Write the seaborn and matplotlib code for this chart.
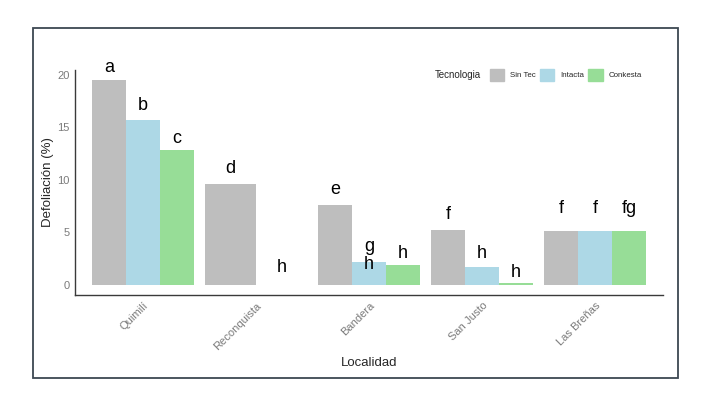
import pandas as pd
import seaborn as sns
import matplotlib.pyplot as plt
import matplotlib.patches as mpatches
import numpy as np

localidades = ['Quimilí', 'Reconquista', 'Bandera', 'San Justo', 'Las Breñas']
tecnologias = ['Sin Tec', 'Intacta', 'Conkesta']

sin_tec = [19.5, 9.6, 7.6, 5.2, 5.1]
intacta = [15.7, 0.0, 2.2, 1.7, 5.1]
conkesta = [12.8, np.nan, 1.9, 0.2, 5.1]

letras_sin = ['a', 'd', 'e', 'f', 'f']
letras_int = ['b', 'h', 'g\nh', 'h', 'f']
letras_con = ['c', '', 'h', 'h', 'fg']

# distancia de la letra (linea base) sobre la barra
ajuste_sin = [0.8, 1.07, 1.07, 1.09, 1.76]
ajuste_int = [0.97, 1.24, -0.68, 0.87, 1.76]
ajuste_con = [0.72, 0, 0.67, 0.56, 1.76]

colores = {'Sin Tec': '#BEBEBE', 'Intacta': '#ADD8E6', 'Conkesta': '#97DD97'}

filas = []
for i, loc in enumerate(localidades):
    for tec, vals in zip(tecnologias, [sin_tec, intacta, conkesta]):
        if not np.isnan(vals[i]):
            filas.append({'Localidad': loc, 'Tecnologia': tec, 'Defoliacion': vals[i]})
df = pd.DataFrame(filas)

sns.set_style('white')
plt.rcParams['font.family'] = ['Liberation Sans', 'DejaVu Sans']

fig = plt.figure(figsize=(7.12, 4.05), dpi=100)
ax = fig.add_axes([0.1053, 0.2716, 0.8258, 0.5556])

sns.barplot(data=df, x='Localidad', y='Defoliacion', hue='Tecnologia',
            order=localidades, hue_order=tecnologias, palette=colores,
            width=0.9, gap=0, saturation=1, errorbar=None, legend=False,
            linewidth=0, edgecolor='none', ax=ax)

# Reconquista solo tiene dos tecnologias: barras mas anchas (como ggplot)
for p in ax.patches:
    c = p.get_x() + p.get_width() / 2
    if abs(c - 0.7) < 0.01:
        p.set_x(0.55)
        p.set_width(0.45)
    elif abs(c - 1.0) < 0.01:
        p.set_x(1.0)
        p.set_width(0.45)

for j, (vals, letras, aj) in enumerate([(sin_tec, letras_sin, ajuste_sin),
                                         (intacta, letras_int, ajuste_int),
                                         (conkesta, letras_con, ajuste_con)]):
    for i in range(len(localidades)):
        if letras[i] == '':
            continue
        x = i + (j - 1) * 0.3
        if localidades[i] == 'Reconquista':
            x = i - 0.225 + j * 0.45
        ax.text(x, vals[i] + aj[i], letras[i], ha='center', va='baseline',
                fontsize=13, color='black', linespacing=1.1)

ax.set_xlim(-0.6, 4.6)
ax.set_ylim(-0.975, 20.475)
ax.set_yticks([0, 5, 10, 15, 20])
ax.tick_params(axis='both', length=0, labelsize=8, labelcolor='#7a7a7a', pad=4)
plt.setp(ax.get_xticklabels(), rotation=45, ha='right', va='top', rotation_mode='anchor')

for s in ['top', 'right']:
    ax.spines[s].set_visible(False)
for s in ['left', 'bottom']:
    ax.spines[s].set_color('#3a3a3a')
    ax.spines[s].set_linewidth(1.0)

ax.set_xlabel('Localidad', fontsize=9.5, labelpad=4)
ax.set_ylabel('Defoliación (%)', fontsize=9.5, labelpad=2)

handles = [mpatches.Patch(color=colores[t], label=t) for t in tecnologias]
fig.legend(handles=handles, ncol=3, frameon=False, fontsize=5.7,
           loc='center left', bbox_to_anchor=(0.682, 0.815), borderpad=0,
           handlelength=1.8, handleheight=1.8, handletextpad=0.8,
           columnspacing=0.5)
fig.text(0.611, 0.815, 'Tecnologia', fontsize=7, va='center', ha='left')

borde = mpatches.Rectangle((0.0463, 0.0667), 0.906, 0.864, transform=fig.transFigure,
                           fill=False, edgecolor='#3d4852', linewidth=1.3)
fig.patches.append(borde)

fig.savefig('out.png', dpi=100)
